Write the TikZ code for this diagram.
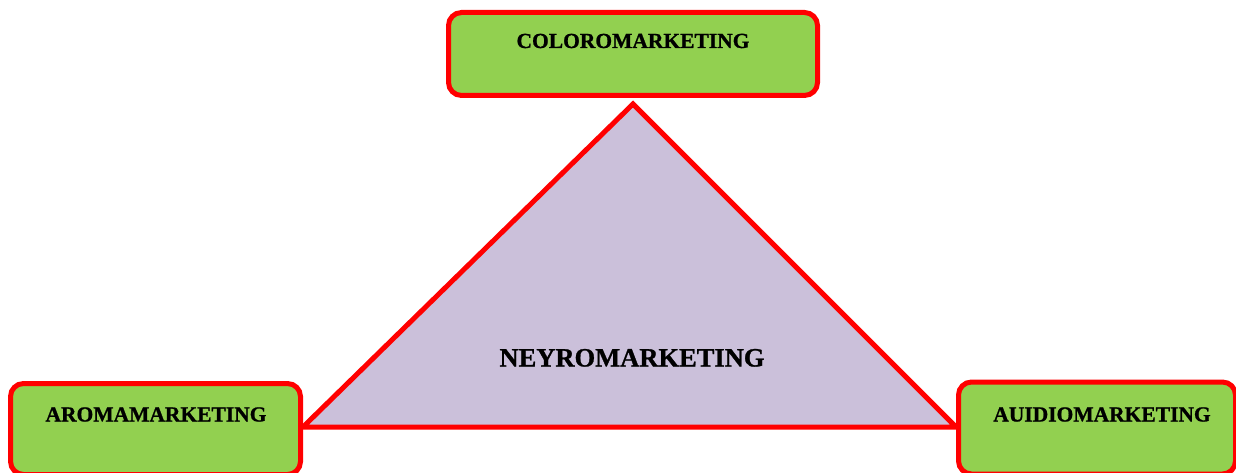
\documentclass[tikz,border=0pt]{standalone}
\usepackage{fontspec}
\setmainfont{Liberation Serif}[BoldFeatures={FakeBold=1}]
\usetikzlibrary{calc,backgrounds}
\definecolor{boxgreen}{HTML}{92D050}
\definecolor{trifill}{HTML}{CBC0DA}
\definecolor{edgered}{HTML}{FF0000}
\tikzset{
  greenbox/.style={draw=edgered, fill=boxgreen, line width=5pt, rounded corners=13pt, inner sep=0pt},
  lbl/.style={font=\fontsize{21.5}{24}\selectfont\bfseries, text=black, inner sep=0pt, anchor=base},
  biglbl/.style={font=\fontsize{26.5}{30}\selectfont\bfseries, text=black, inner sep=0pt, anchor=base},
  tri/.style={draw=edgered, fill=trifill, line width=5pt, line join=miter}
}
\begin{document}
\begin{tikzpicture}[x=1pt,y=-1pt]
\useasboundingbox (0,0) rectangle (1236,473);
\node[greenbox, minimum width=369pt, minimum height=83pt] (top) at (633,54) {};
\node[greenbox, minimum width=290pt, minimum height=91pt] (left) at (155.5,429) {};
\node[greenbox, minimum width=277pt, minimum height=92pt] (right) at (1097,428) {};
\begin{scope}[on background layer]
\draw[tri] ($(top.south)+(0,6)$) -- ($(right.west)+(0,-1)$) -- ($(left.east)+(0,-2)$) -- cycle;
\end{scope}
\node[biglbl] (neyro) at (632,366.5) {NEYROMARKETING};
\node[lbl] (colt) at (633,48) {COLOROMARKETING};
\node[lbl] (arot) at (156,421.5) {AROMAMARKETING};
\node[lbl] (audt) at (1102,421.5) {AUIDIOMARKETING};
\end{tikzpicture}
\end{document}
